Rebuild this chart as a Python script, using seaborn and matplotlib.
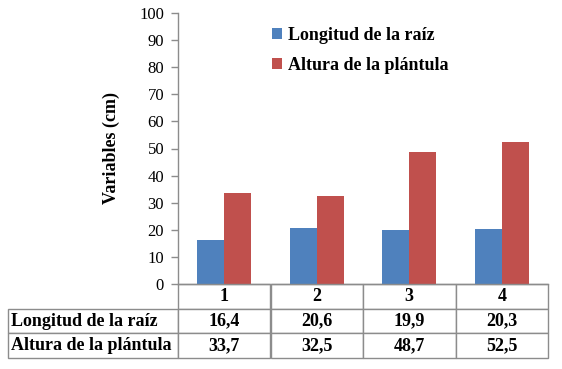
import matplotlib
matplotlib.use("Agg")
import matplotlib.pyplot as plt
import pandas as pd
import seaborn as sns
from matplotlib.patches import Patch

categories = ["1", "2", "3", "4"]
longitud_raiz = [16.4, 20.6, 19.9, 20.3]
altura_plantula = [33.7, 32.5, 48.7, 52.5]
series_names = ["Longitud de la raíz", "Altura de la plántula"]
colors = ["#4F81BD", "#C0504D"]

sns.set_theme(style="white")
plt.rcParams["font.family"] = ["Liberation Serif", "DejaVu Serif"]
plt.rcParams["text.color"] = "black"
plt.rcParams["axes.labelcolor"] = "black"

df = pd.DataFrame({
    "Tratamiento": categories * 2,
    "Serie": [series_names[0]] * 4 + [series_names[1]] * 4,
    "Valor": longitud_raiz + altura_plantula,
})

W, H = 562, 369
fig = plt.figure(figsize=(W / 100, H / 100), dpi=100)
fig.patch.set_facecolor("white")
x0, x1, y_top, y_bot = 178, 548, 13, 284
ax = fig.add_axes([x0 / W, 1 - y_bot / H, (x1 - x0) / W, (y_bot - y_top) / H])

sns.barplot(data=df, x="Tratamiento", y="Valor", hue="Serie", palette=colors,
            width=0.58, saturation=1, linewidth=0, ax=ax, legend=False)

ax.set_ylim(0, 100)
ax.set_yticks(range(0, 101, 10))
ax.set_xlim(-0.5, 3.5)
ax.set_xticks([])
ax.set_xlabel("")
ax.set_ylabel("Variables (cm)", fontsize=13, fontweight="bold", labelpad=14)
ax.tick_params(axis="y", direction="out", length=5, width=1, color="#8C8C8C",
               labelsize=12, labelcolor="black", pad=5, left=True)
for side in ["top", "right"]:
    ax.spines[side].set_visible(False)
for side in ["left", "bottom"]:
    ax.spines[side].set_color("#8C8C8C")
    ax.spines[side].set_linewidth(1)

handles = [Patch(facecolor=c, edgecolor="none") for c in colors]
ax.legend(handles, series_names, loc="upper left", bbox_to_anchor=(0.255, 0.95),
          frameon=False, borderpad=0, borderaxespad=0,
          handlelength=0.55, handleheight=0.55, handletextpad=0.3,
          labelspacing=0.75, prop={"weight": "bold", "size": 13})

# data table under the chart
cell_text = [[""] + categories,
             [series_names[0]] + [f"{v:.1f}".replace(".", ",") for v in longitud_raiz],
             [series_names[1]] + [f"{v:.1f}".replace(".", ",") for v in altura_plantula]]
label_w = (x0 - 8) / (x1 - x0)
col_w = 0.25
tbl = ax.table(cellText=cell_text, cellLoc="center",
               colWidths=[label_w] + [col_w] * 4,
               bbox=[-label_w, -74 / (y_bot - y_top), 1 + label_w, 74 / (y_bot - y_top)])
tbl.auto_set_font_size(False)
for (r, c), cell in tbl.get_celld().items():
    cell.set_edgecolor("#8C8C8C")
    cell.set_linewidth(1)
    cell.get_text().set_fontsize(13)
    cell.get_text().set_fontweight("bold")
    cell.get_text().set_color("black")
    if c == 0:
        cell.get_text().set_ha("left")
        cell.PAD = 0.02
        if r == 0:
            cell.visible_edges = ""

fig.savefig("out.png", dpi=100)
